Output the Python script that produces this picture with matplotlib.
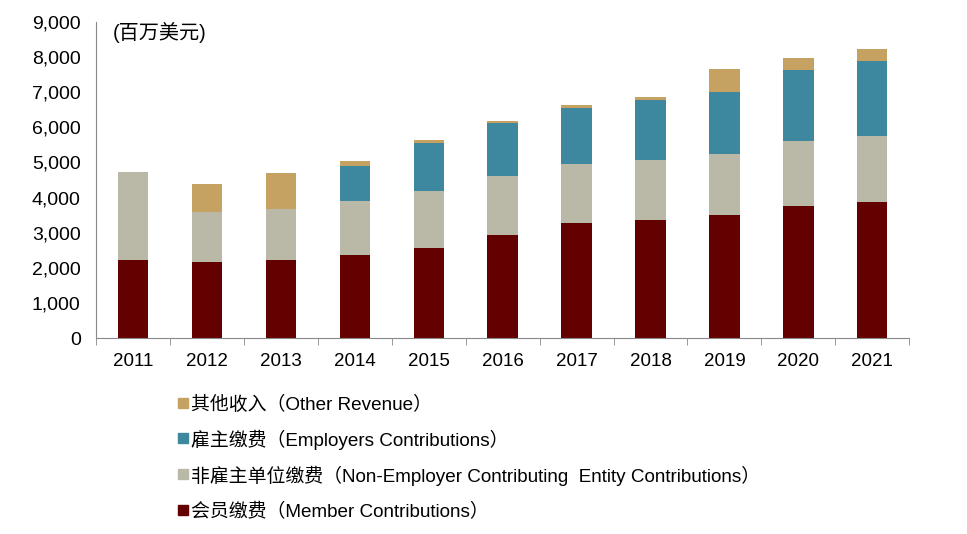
import numpy as np
import matplotlib.pyplot as plt
from matplotlib.patches import Rectangle

plt.rcParams['font.family'] = ['Liberation Sans', 'Noto Sans CJK SC', 'DejaVu Sans']

# Data (million USD)
years = ['2011', '2012', '2013', '2014', '2015', '2016', '2017', '2018', '2019', '2020', '2021']
member = [2230, 2172, 2230, 2365, 2575, 2931, 3265, 3362, 3495, 3764, 3859]
nonEmployer = [2490, 1420, 1457, 1532, 1620, 1695, 1686, 1713, 1753, 1848, 1888]
employers = [0, 0, 0, 997, 1360, 1495, 1601, 1695, 1753, 2032, 2126]
other = [0, 793, 997, 152, 86, 57, 86, 78, 671, 324, 363]

labels = ['其他收入（Other Revenue）',
          '雇主缴费（Employers Contributions）',
          '非雇主单位缴费（Non-Employer Contributing  Entity Contributions）',
          '会员缴费（Member Contributions）']
colors = {'member': '#630000', 'nonEmployer': '#BAB9A7',
          'employers': '#3D889E', 'other': '#C6A262'}

fig = plt.figure(figsize=(9.67, 5.34), dpi=100)
ax = fig.add_axes([0.0993, 0.367, 0.841, 0.592])

x = np.arange(len(years))
w = 0.41
b0 = np.zeros(len(years))
ax.bar(x, member, w, bottom=b0, color=colors['member'])
b1 = b0 + np.array(member)
ax.bar(x, nonEmployer, w, bottom=b1, color=colors['nonEmployer'])
b2 = b1 + np.array(nonEmployer)
ax.bar(x, employers, w, bottom=b2, color=colors['employers'])
b3 = b2 + np.array(employers)
ax.bar(x, other, w, bottom=b3, color=colors['other'])

ax.set_xlim(-0.5, len(years) - 0.5)
ax.set_ylim(0, 9000)
ax.set_yticks(np.arange(0, 9001, 1000))
ax.set_yticklabels(['{:,}'.format(v) for v in range(0, 9001, 1000)], fontsize=14)
ax.set_xticks(x)
ax.set_xticklabels(years, fontsize=13.5)
ax.set_xticks(np.arange(-0.5, len(years), 1), minor=True)
ax.tick_params(axis='x', which='major', length=0, pad=11)
ax.tick_params(axis='x', which='minor', length=5, color='#888888', direction='out')
ax.tick_params(axis='y', length=0, pad=11)

for s in ['top', 'right']:
    ax.spines[s].set_visible(False)
for s in ['left', 'bottom']:
    ax.spines[s].set_color('#888888')

ax.text(0.02, 1.0, '(百万美元)', transform=ax.transAxes, fontsize=14.5,
        va='top', ha='left')

# legend drawn by hand so the rows are evenly spaced, like the original
W, H = 967, 534
legendColors = [colors['other'], colors['employers'], colors['nonEmployer'], colors['member']]
rowY = [405, 440, 476, 512]
for lab, col, yy in zip(labels, legendColors, rowY):
    fig.patches.append(Rectangle((178 / W, 1 - (yy + 3) / H), 10 / W, 10 / H,
                                 transform=fig.transFigure, color=col))
    fig.text(191 / W, 1 - yy / H, lab, fontsize=13.6, va='center', ha='left')

fig.savefig('out.png', dpi=100)
